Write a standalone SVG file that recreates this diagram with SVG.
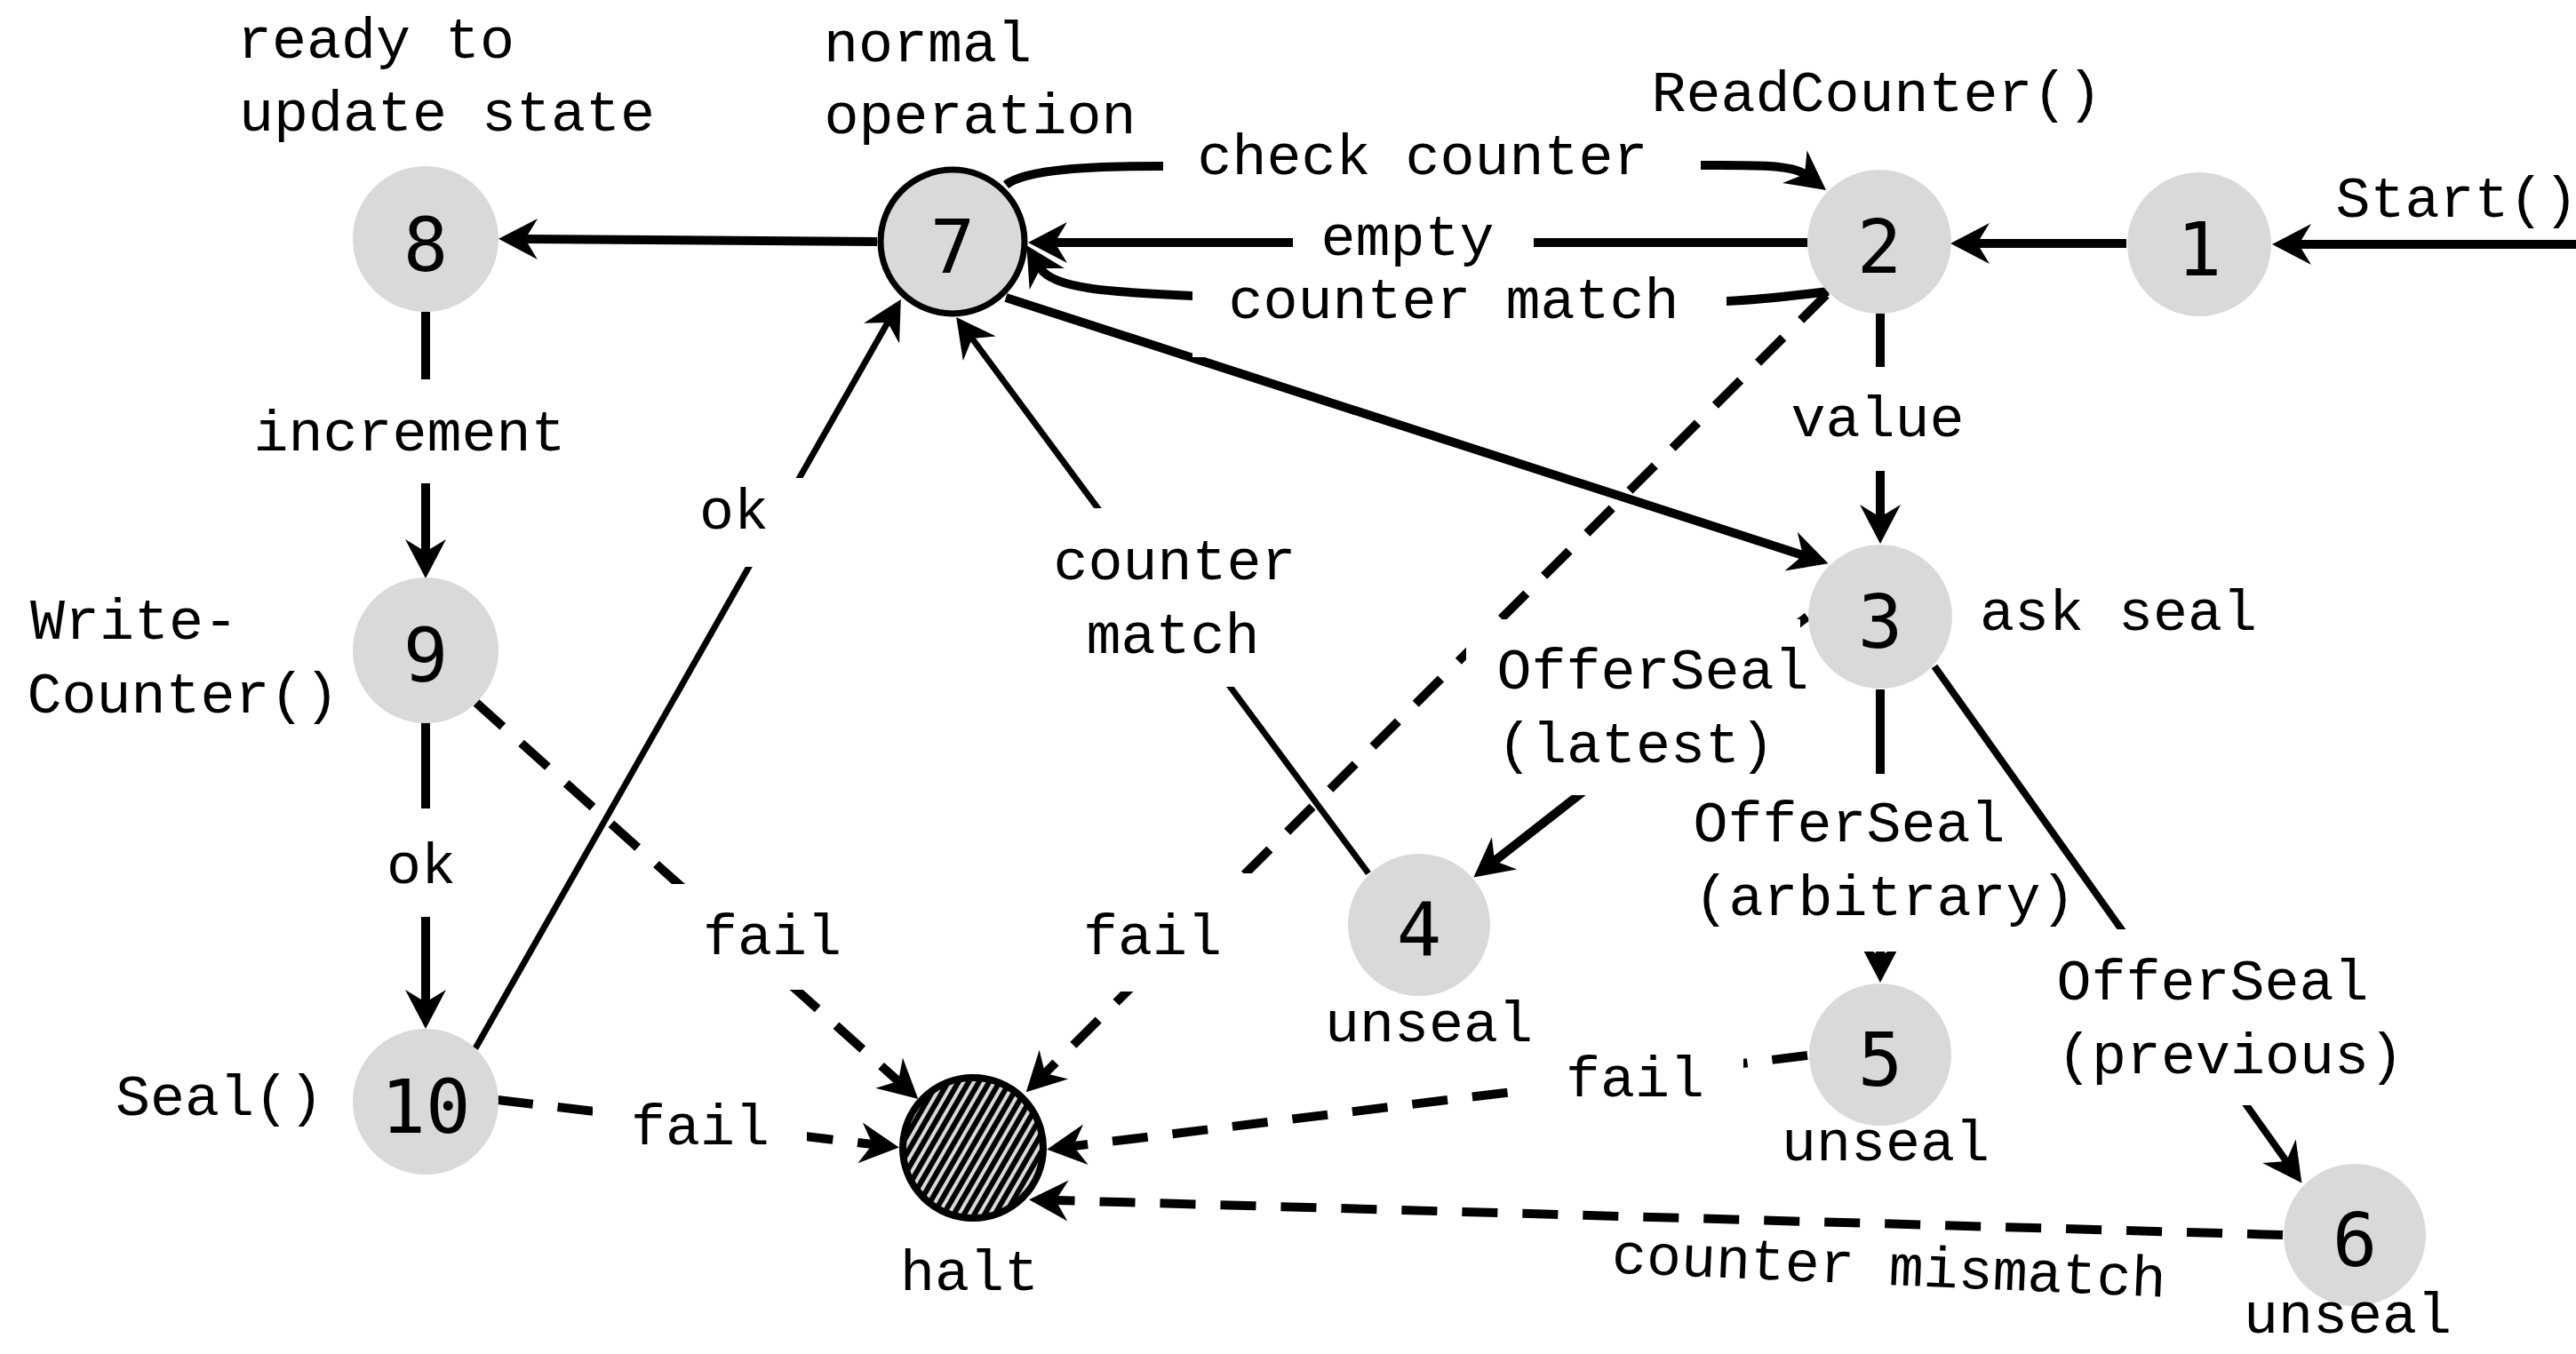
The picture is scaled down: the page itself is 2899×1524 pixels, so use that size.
<svg xmlns="http://www.w3.org/2000/svg" width="2899" height="1524" viewBox="0 0 2899 1524">
<style>
.s{fill:none;stroke:#000;stroke-width:10}
.m{fill:none;stroke:#000;stroke-width:8}
.t{fill:none;stroke:#000;stroke-width:7}
.d{fill:none;stroke:#000;stroke-width:10;stroke-dasharray:40 28}
.a{marker-end:url(#ah)}
.bg{fill:#fff}
.lb{font-family:"Liberation Mono","Courier New",monospace;font-size:65px;fill:#000;text-anchor:middle}
.num{font-family:"DejaVu Sans Mono","Liberation Mono",monospace;font-size:84px;fill:#000;text-anchor:middle}
.n{fill:#d9d9d9}
.n7{fill:#d9d9d9;stroke:#000;stroke-width:7}
.h{fill:url(#hatch);stroke:#000;stroke-width:8}
</style>
<defs>
<marker id="ah" viewBox="-46 -25 48 50" refX="-30" refY="0" markerWidth="48" markerHeight="50" markerUnits="userSpaceOnUse" orient="auto">
<path d="M0,0 L-44,-23 L-30,0 L-44,23 Z" fill="#000"/>
</marker>
<pattern id="hatch" patternUnits="userSpaceOnUse" width="10" height="10" patternTransform="rotate(30)">
<rect width="10" height="10" fill="#d9d9d9"/>
<rect width="6" height="10" fill="#000"/>
</pattern>
</defs>
<rect width="2899" height="1524" fill="#fff"/>

<g id="connectors">
<path id="e-start-1" class="s a" d="M2899,275 L2587,275"/>
<path id="e-1-2" class="s a" d="M2393,274 L2225,274"/>
<path id="e-2-7-empty" class="s a" d="M2034,273 L1187,273"/>
<path id="e-7-2-check" class="s a" d="M1132,208 C1155,190 1230,187 1309,187 L1900,186 C1960,186 2015,184 2031,196"/>
<path id="e-2-7-match" class="s a" d="M2058,328 C2010,334 1965,338 1943,339 L1342,333 C1250,329 1185,325 1171,302"/>
<path id="e-7-8" class="s a" d="M987,272 L591,269"/>
<path id="e-8-9" class="s a" d="M479,351 L479,621"/>
<path id="e-9-10" class="s a" d="M479,813 L479,1128"/>
<path id="e-7-3" class="s a" d="M1132,335 L2029,625"/>
<path id="e-2-3" class="s a" d="M2116,353 L2116,582"/>
<path id="e-3-5" class="s a" d="M2116,776 L2116,1076"/>
<path id="e-10-7" class="t a" d="M535,1180 L999,363"/>
<path id="e-4-7" class="t a" d="M1540,983 L1094,381"/>
<path id="e-3-4" class="s a" d="M2034,694 L1682,969"/>
<path id="e-3-6" class="m a" d="M2177,750 L2573,1307"/>
<path id="e-9-halt" class="d a" d="M536,791 L1011,1217"/>
<path id="e-2-halt" class="d a" d="M2055,332 L1176,1208"/>
<path id="e-5-halt" class="d a" d="M2034,1188 L1208,1290"/>
<path id="e-6-halt" class="d a" d="M2569,1390 L1188,1351"/>
<path id="e-10-halt" class="d a" d="M560,1238 L982,1288"/>
</g>

<g id="edge-labels">
<text class="lb" x="2765" y="244">Start()</text>
<rect class="bg" x="1309" y="160" width="605" height="52"/>
<text class="lb" x="1601" y="196">check counter</text>
<rect class="bg" x="1455" y="250" width="271" height="50"/>
<text class="lb" x="1584" y="287">empty</text>
<rect class="bg" x="1342" y="305" width="601" height="97"/>
<text class="lb" x="1636" y="358">counter match</text>
<rect class="bg" x="280" y="427" width="365" height="117"/>
<text class="lb" x="461" y="507">increment</text>
<rect class="bg" x="2010" y="413" width="205" height="117"/>
<text class="lb" x="2113" y="491">value</text>
<rect class="bg" x="770" y="538" width="138" height="100"/>
<text class="lb" x="826" y="595">ok</text>
<rect class="bg" x="1180" y="572" width="290" height="201"/>
<text class="lb" x="1322" y="652">counter</text>
<text class="lb" x="1320" y="735">match</text>
<rect class="bg" x="1650" y="697" width="376" height="198"/>
<text class="lb" x="1860" y="775">OfferSeal</text>
<text class="lb" x="1841" y="858">(latest)</text>
<rect class="bg" x="1895" y="871" width="345" height="200"/>
<text class="lb" x="2081" y="947">OfferSeal</text>
<text class="lb" x="2121" y="1030">(arbitrary)</text>
<rect class="bg" x="2305" y="1046" width="400" height="198"/>
<text class="lb" x="2490" y="1125">OfferSeal</text>
<text class="lb" x="2510" y="1208">(previous)</text>
<rect class="bg" x="430" y="910" width="95" height="122"/>
<text class="lb" x="474" y="994">ok</text>
<rect class="bg" x="755" y="995" width="210" height="119"/>
<text class="lb" x="869" y="1074">fail</text>
<rect class="bg" x="1210" y="983" width="212" height="133"/>
<text class="lb" x="1297" y="1074">fail</text>
<rect class="bg" x="1723" y="1180" width="239" height="70"/>
<text class="lb" x="1840" y="1234">fail</text>
<rect class="bg" x="667" y="1232" width="241" height="70"/>
<text class="lb" x="788" y="1288">fail</text>
<text class="lb" x="2125" y="1446" transform="rotate(2.5 2125 1446)">counter mismatch</text>
</g>

<g id="node-1">
<circle class="n" cx="2475" cy="275" r="81"/>
<text class="num" x="2475" y="310">1</text>
</g>
<g id="node-2">
<circle class="n" cx="2115" cy="272" r="81"/>
<text class="num" x="2115" y="307">2</text>
<text class="lb" x="2112" y="125">ReadCounter()</text>
</g>
<g id="node-3">
<circle class="n" cx="2116" cy="694" r="81"/>
<text class="num" x="2116" y="729">3</text>
<text class="lb" x="2384" y="709">ask seal</text>
</g>
<g id="node-4">
<circle class="n" cx="1597" cy="1041" r="80"/>
<text class="num" x="1597" y="1076">4</text>
<text class="lb" x="1608" y="1172">unseal</text>
</g>
<g id="node-5">
<circle class="n" cx="2116" cy="1187" r="80"/>
<text class="num" x="2116" y="1222">5</text>
<text class="lb" x="2122" y="1306">unseal</text>
</g>
<g id="node-6">
<circle class="n" cx="2650" cy="1390" r="80"/>
<text class="num" x="2650" y="1425">6</text>
<text class="lb" x="2642" y="1500">unseal</text>
</g>
<g id="node-7">
<circle class="n7" cx="1072" cy="272" r="81"/>
<text class="num" x="1072" y="307">7</text>
<text class="lb" x="1044" y="69">normal</text>
<text class="lb" x="1103" y="150">operation</text>
</g>
<g id="node-8">
<circle class="n" cx="479" cy="269" r="82"/>
<text class="num" x="479" y="305">8</text>
<text class="lb" x="423" y="65">ready to</text>
<text class="lb" x="503" y="147">update state</text>
</g>
<g id="node-9">
<circle class="n" cx="479" cy="732" r="82"/>
<text class="num" x="479" y="767">9</text>
<text class="lb" x="151" y="719">Write-</text>
<text class="lb" x="206" y="802">Counter()</text>
</g>
<g id="node-10">
<circle class="n" cx="479" cy="1240" r="82"/>
<text class="num" x="479" y="1275">10</text>
<text class="lb" x="247" y="1255">Seal()</text>
</g>
<g id="node-halt">
<circle class="h" cx="1095" cy="1292" r="79"/>
<text class="lb" x="1091" y="1452">halt</text>
</g>
</svg>
